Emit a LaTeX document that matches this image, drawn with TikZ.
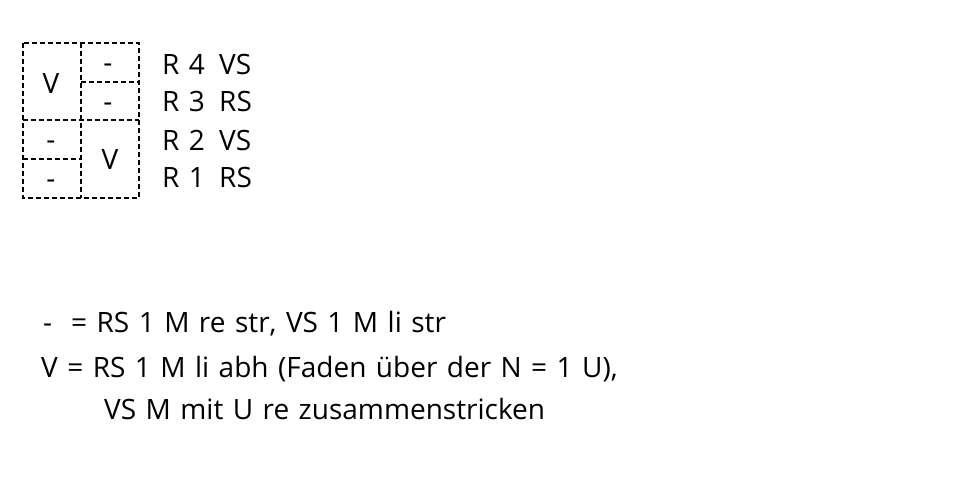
\documentclass[tikz,border=0pt]{standalone}
\usepackage{fontspec}
\setmainfont[WordSpace=1.3]{Open Sans}
\begin{document}
\begin{tikzpicture}[x=1pt,y=-1pt,
  grid/.style={draw=black, line width=1.4pt, dash pattern=on 5pt off 3pt},
  txt/.style={font=\fontsize{28}{32}\selectfont, inner sep=0pt, anchor=base west},
  cell/.style={font=\fontsize{28}{32}\selectfont, inner sep=0pt, anchor=base}]
\useasboundingbox (0,0) rectangle (960,485);
% grid
\draw[grid] (23,43) rectangle (139,198);
\draw[grid] (81,43) -- (81,198);
\draw[grid] (23,120) -- (139,120);
\draw[grid] (81,82) -- (139,82);
\draw[grid] (23,159) -- (81,159);
% cell symbols
\node[cell] (v1) at (51,93) {V};
\node[cell] (d1) at (108,72) {-};
\node[cell] (d2) at (108,111) {-};
\node[cell] (d3) at (51,149) {-};
\node[cell] (d4) at (51,188) {-};
\node[cell] (v2) at (110,169) {V};
% row labels
\node[txt] (r4) at (162,74) {R 4};
\node[txt] (s4) at (219,74) {VS};
\node[txt] (r3) at (162,111) {R 3};
\node[txt] (s3) at (219,111) {RS};
\node[txt] (r2) at (162,150) {R 2};
\node[txt] (s2) at (219,150) {VS};
\node[txt] (r1) at (162,187) {R 1};
\node[txt] (s1) at (219,187) {RS};
% legend
\node[txt] (l1a) at (43,332) {-};
\node[txt] (l1) at (71,332) {= RS 1 M re str, VS 1 M li str};
\node[txt] (l2) at (41,377) {V = RS 1 M li abh (Faden über der N = 1 U),};
\node[txt] (l3) at (104,419) {VS M mit U re zusammenstricken};
\end{tikzpicture}
\end{document}
